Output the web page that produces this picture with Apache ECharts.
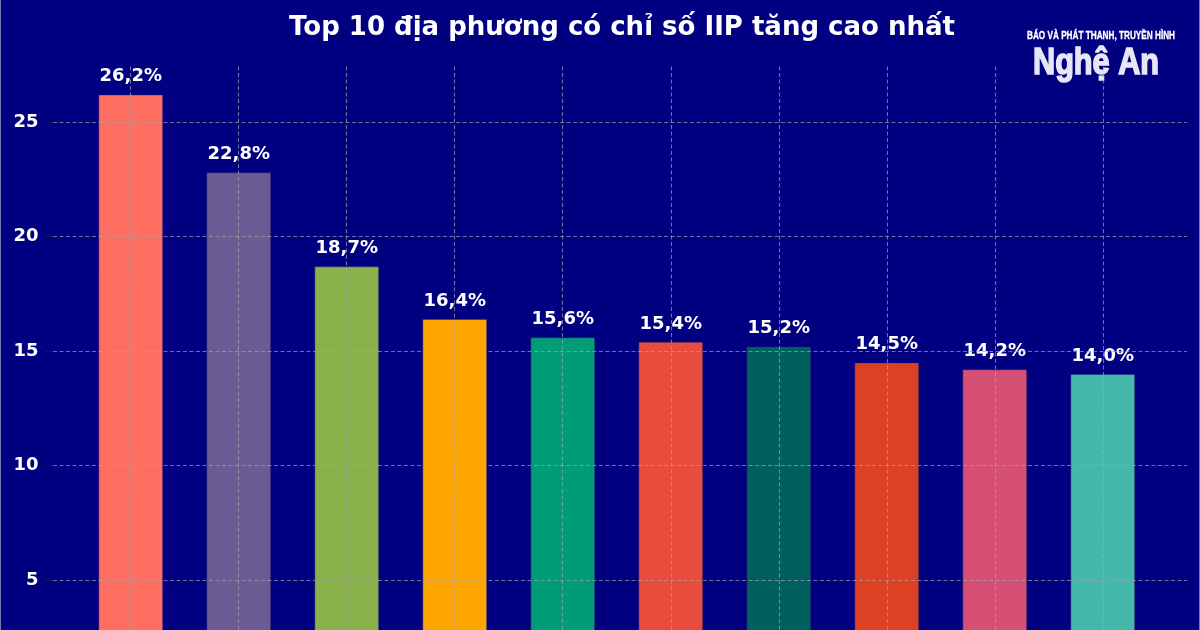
<!DOCTYPE html>
<html>
<head>
<meta charset="utf-8">
<script src="https://cdn.jsdelivr.net/npm/echarts@6/dist/echarts.min.js"></script>
<style>
html,body{margin:0;padding:0;background:#000080;}
#chart{width:1200px;height:630px;}
</style>
</head>
<body>
<div id="chart"></div>
<script>
// Data (province names are cut off below the visible area)
const categories = ['Địa phương 1','Địa phương 2','Địa phương 3','Địa phương 4','Địa phương 5','Địa phương 6','Địa phương 7','Địa phương 8','Địa phương 9','Địa phương 10'];
const values = [26.2, 22.8, 18.7, 16.4, 15.6, 15.4, 15.2, 14.5, 14.2, 14.0];
const yTicks = [0, 5, 10, 15, 20, 25];
const titleText = 'Top 10 địa phương có chỉ số IIP tăng cao nhất';
const logoSmall = 'BÁO VÀ PHÁT THANH, TRUYỀN HÌNH';
const logoBig = 'Nghệ An';

const palette = ['#FF6F61','#6B5B95','#88B04B','#FFA500','#009B77','#E74C3C','#006060','#DD4124','#D65076','#45B8AC'];

// measure text to squeeze the logo lettering into its box
const mctx = document.createElement('canvas').getContext('2d');
function fitScale(text, font, target) {
  mctx.font = font;
  return target / mctx.measureText(text).width;
}
const smallFont = 'bold 10px "Liberation Sans"';
const bigFont = 'bold 36px "Liberation Sans"';
const sSmall = fitScale(logoSmall, smallFont, 148);
const sBig = fitScale(logoBig, bigFont, 126);

const chart = echarts.init(document.getElementById('chart'), null, {renderer:'canvas'});
const gridColor = 'rgba(165,165,170,0.68)';
const fmt = v => v.toFixed(1).replace('.', ',') + '%';

chart.setOption({
  backgroundColor: '#000080',
  animation: false,
  title: {
    text: titleText,
    left: 617, textAlign: 'center', top: 10,
    textStyle: {color:'#ffffff', fontFamily:'DejaVu Sans', fontWeight:'bold', fontSize:26}
  },
  grid: {left: 46.5, right: 13, top: 64.5, height: 630, outerBoundsMode: 'none', containLabel: false},
  xAxis: {
    type: 'value', min: -0.78, max: 9.78, show: false
  },
  yAxis: {
    type: 'value', min: 0, max: 27.51, interval: 5, z: 5,
    axisLine: {show:false, onZero:false},
    axisTick: {show:true, inside:true, length:6, lineStyle:{color:'#151530', width:1.2}},
    axisLabel: {
      color:'#ffffff', fontFamily:'DejaVu Sans', fontWeight:'bold', fontSize:18, margin:8,
      showMaxLabel:false,
      formatter: v => (yTicks.indexOf(v) >= 0 ? String(v) : '')
    },
    splitLine: {show:true, showMaxLine:false, lineStyle:{color:gridColor, type:[4,2.5], width:1.1}}
  },
  series: [{
    type: 'bar',
    barWidth: 64.8,
    data: values.map((v, i) => ({value: [i, v], name: categories[i], itemStyle:{color: palette[i]}})),
    itemStyle: {borderColor:'rgba(40,30,110,0.45)', borderWidth:1},
    label: {
      show: true, position: 'top', distance: 9,
      color:'#ffffff', fontFamily:'DejaVu Sans', fontWeight:'bold', fontSize:18,
      formatter: p => fmt(p.value[1])
    },
    markLine: {
      silent: true, symbol: 'none', z: 6,
      label: {show:false},
      lineStyle: {color:gridColor, type:[4,2.5], width:1.1},
      data: categories.map((c, i) => ({xAxis: i}))
    }
  }],
  graphic: [
    {type:'text', x:1027, y:31, scaleX:sSmall, style:{text:logoSmall, fill:'#ffffff', stroke:'#ffffff', lineWidth:0.3, font:smallFont}},
    {type:'text', x:1033, y:46, scaleX:sBig, style:{text:logoBig, fill:'#e6e6f6', stroke:'#e6e6f6', lineWidth:1.6, font:bigFont}},
    {type:'line', shape:{x1:0.5,y1:0,x2:0.5,y2:630}, style:{stroke:'rgba(200,200,220,0.6)', lineWidth:1}},
    {type:'line', shape:{x1:1199.5,y1:0,x2:1199.5,y2:630}, style:{stroke:'rgba(200,200,220,0.6)', lineWidth:1}}
  ]
});
</script>
</body>
</html>
